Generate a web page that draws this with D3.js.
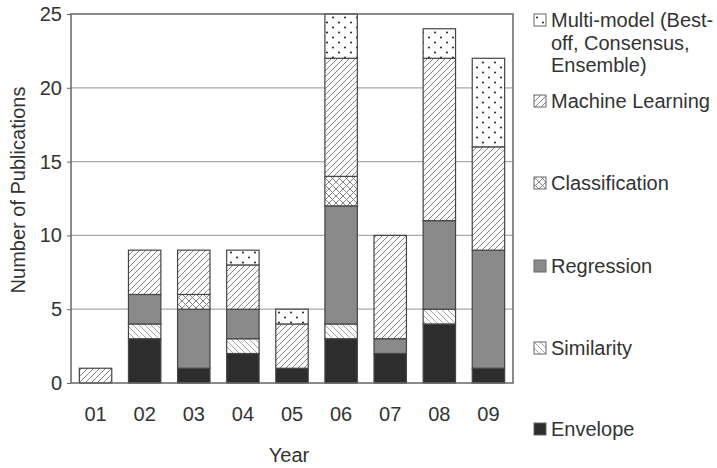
<!DOCTYPE html>
<html><head><meta charset="utf-8">
<script src="https://cdn.jsdelivr.net/npm/d3@7"></script>
<style>body{margin:0;background:#fff}svg{display:block}text{font-family:"Liberation Sans",Arial,sans-serif;fill:#333}</style>
</head><body><svg id="c" width="717" height="468"></svg>
<script>
const years = ["01","02","03","04","05","06","07","08","09"];
const series = ["Envelope","Similarity","Regression","Classification","Machine Learning","Multi-model"];
const envelope       = [0,3,1,2,1,3,2,4,1];
const similarity     = [0,1,0,1,0,1,0,1,0];
const regression     = [0,2,4,2,0,8,1,6,8];
const classification = [0,0,1,0,0,2,0,0,0];
const machineLearning= [1,3,3,3,3,8,7,11,7];
const multiModel     = [0,0,0,1,1,3,0,2,6];
const yTicks = [0,5,10,15,20,25];

const svg = d3.select("#c");
const m = {l:71, r:513, t:14, b:383};
const x = d3.scaleBand().domain(years).range([m.l,m.r]).paddingInner(0.34).paddingOuter(0.17);
const y = d3.scaleLinear().domain([0,25]).range([m.b,m.t]);
const FS = 20;

const defs = svg.append("defs");
function hatch(id, dir, color, sp){
  const p = defs.append("pattern").attr("id",id).attr("patternUnits","userSpaceOnUse").attr("width",sp).attr("height",sp);
  p.append("rect").attr("width",sp).attr("height",sp).attr("fill","#fff");
  const d = dir>0 ? `M0,${sp} L${sp},0 M${-sp/2},${sp/2} L${sp/2},${-sp/2} M${sp/2},${sp*1.5} L${sp*1.5},${sp/2}`
                  : `M0,0 L${sp},${sp} M${-sp/2},${sp/2} L${sp/2},${sp*1.5} M${sp/2},${-sp/2} L${sp*1.5},${sp/2}`;
  p.append("path").attr("d",d).attr("stroke",color).attr("stroke-width",0.9).attr("fill","none");
}
hatch("ml",1,"#777",6);
hatch("sim",-1,"#999",6);
const cp = defs.append("pattern").attr("id","cls").attr("patternUnits","userSpaceOnUse").attr("width",7).attr("height",7);
cp.append("rect").attr("width",7).attr("height",7).attr("fill","#fff");
cp.append("path").attr("d","M0,7 L7,0 M0,0 L7,7").attr("stroke","#777").attr("stroke-width",0.9);
const dp = defs.append("pattern").attr("id","mm").attr("patternUnits","userSpaceOnUse").attr("width",12).attr("height",10);
dp.append("rect").attr("width",12).attr("height",10).attr("fill","#fff");
dp.append("circle").attr("cx",3).attr("cy",2.5).attr("r",1.1).attr("fill","#333");
dp.append("circle").attr("cx",9).attr("cy",7.5).attr("r",1.1).attr("fill","#333");

const fills = {"Envelope":"#2d2d2d","Similarity":"url(#sim)","Regression":"#8a8a8a","Classification":"url(#cls)","Machine Learning":"url(#ml)","Multi-model":"url(#mm)"};
const arrs = {"Envelope":envelope,"Similarity":similarity,"Regression":regression,"Classification":classification,"Machine Learning":machineLearning,"Multi-model":multiModel};

// gridlines
svg.append("g").selectAll("line").data(yTicks.filter(t=>t>0 && t<25)).join("line")
  .attr("x1",m.l).attr("x2",m.r).attr("y1",d=>y(d)).attr("y2",d=>y(d)).attr("stroke","#aaa").attr("stroke-width",1.2);

const table = years.map((yr,i)=>{const o={year:yr}; series.forEach(s=>o[s]=arrs[s][i]); return o;});
const stack = d3.stack().keys(series)(table);
svg.append("g").selectAll("g").data(stack).join("g").attr("fill",d=>fills[d.key])
  .selectAll("rect").data(d=>d.filter(v=>v[1]-v[0]>0)).join("rect")
  .attr("x",d=>x(d.data.year)).attr("width",x.bandwidth())
  .attr("y",d=>y(d[1])).attr("height",d=>y(d[0])-y(d[1]))
  .attr("stroke","#444").attr("stroke-width",1.2);

// frame
svg.append("rect").attr("x",m.l).attr("y",m.t).attr("width",m.r-m.l).attr("height",m.b-m.t)
  .attr("fill","none").attr("stroke","#666").attr("stroke-width",1.5);

const ya = svg.append("g").attr("transform",`translate(${m.l},0)`)
  .call(d3.axisLeft(y).tickValues(yTicks).tickSize(4).tickPadding(5));
ya.select(".domain").remove();
ya.selectAll("line").attr("stroke","#666");
ya.selectAll("text").attr("font-size",FS).style("fill","#333");

const xa = svg.append("g").attr("transform",`translate(0,${m.b})`)
  .call(d3.axisBottom(x).tickSize(0).tickPadding(0));
xa.select(".domain").remove();
xa.selectAll("text").attr("font-size",FS).attr("dy",null).attr("y",38).style("fill","#333");

svg.append("text").attr("x",289).attr("y",462).attr("text-anchor","middle").attr("font-size",FS).text("Year");
svg.append("text").attr("transform","translate(25,190) rotate(-90)").attr("text-anchor","middle").attr("font-size",FS).text("Number of Publications");

// legend
const leg = [
  {k:"Multi-model", lines:["Multi-model (Best-","off, Consensus,","Ensemble)"], y:27},
  {k:"Machine Learning", lines:["Machine Learning"], y:108},
  {k:"Classification", lines:["Classification"], y:190},
  {k:"Regression", lines:["Regression"], y:273},
  {k:"Similarity", lines:["Similarity"], y:355},
  {k:"Envelope", lines:["Envelope"], y:436}
];
const lg = svg.append("g").selectAll("g").data(leg).join("g");
lg.append("rect").attr("x",534).attr("y",d=>d.y-13).attr("width",12).attr("height",12)
  .attr("fill",d=>fills[d.k]).attr("stroke","#666").attr("stroke-width",1);
lg.append("text").attr("x",551).attr("y",d=>d.y).attr("font-size",FS)
  .selectAll("tspan").data(d=>d.lines).join("tspan").attr("x",551).attr("dy",(d,i)=>i===0?0:22.5).text(d=>d);
</script></body></html>
